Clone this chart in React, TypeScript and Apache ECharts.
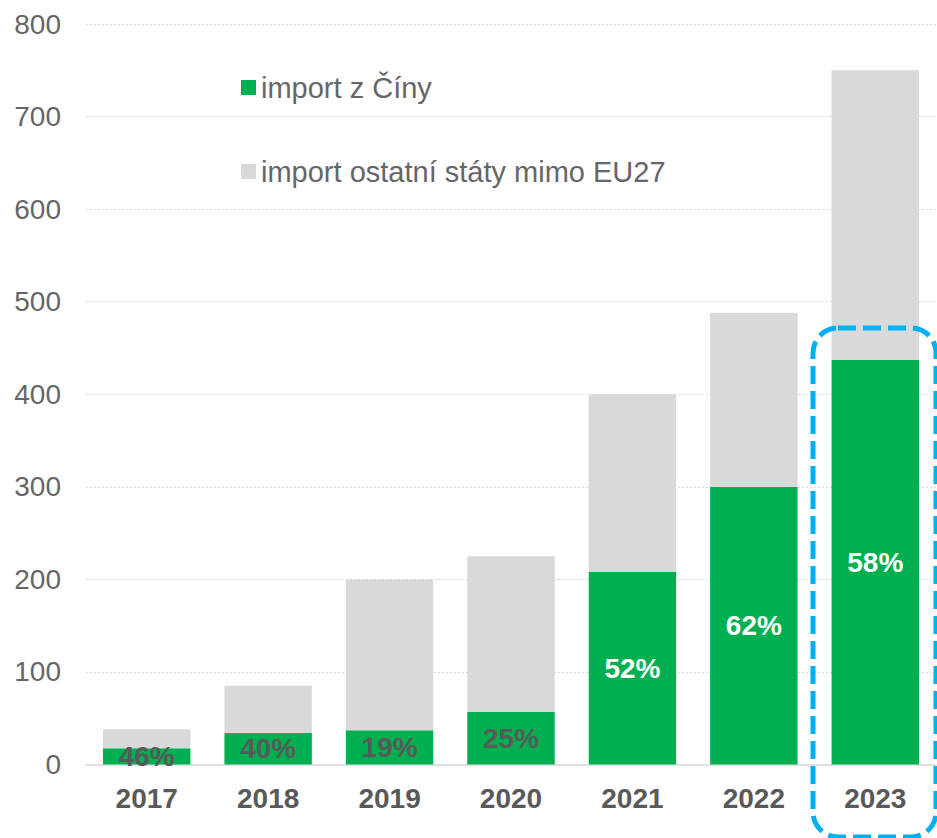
import React, { useEffect, useRef } from "react";
import * as echarts from "echarts";

const years = ["2017", "2018", "2019", "2020", "2021", "2022", "2023"];
const chinaImport = [17.5, 34, 37, 57, 208, 300, 437];
const otherImport = [20.5, 51, 163, 168, 192, 188, 313];
const shareLabels = ["46%", "40%", "19%", "25%", "52%", "62%", "58%"];
const yTicks = { min: 0, max: 800, interval: 100 };
const legendNames = ["import z Číny", "import ostatní státy mimo EU27"];

const FONT = "'Liberation Sans', Arial, sans-serif";
const GREEN = "#00b050";
const GRAY = "#d9d9d9";
const TEXT = "#595959";

export default function App() {
  const ref = useRef<HTMLDivElement>(null);
  useEffect(() => {
    if (!ref.current) return;
    const chart = echarts.init(ref.current, undefined, { renderer: "svg" });
    chart.setOption({
      animation: false,
      grid: { left: 86, right: 1, top: 24, bottom: 73.5, containLabel: false },
      legend: {
        orient: "vertical",
        left: 236,
        top: 68,
        itemWidth: 15,
        itemHeight: 15,
        itemGap: 55,
        icon: "rect",
        data: legendNames,
        textStyle: { fontFamily: FONT, fontSize: 29, color: "#666", lineHeight: 29 },
      },
      xAxis: {
        type: "category",
        data: years,
        axisTick: { show: false },
        axisLine: { show: true, lineStyle: { color: GRAY, width: 1.5 } },
        axisLabel: {
          margin: 20,
          fontFamily: FONT,
          fontSize: 28,
          fontWeight: "bold",
          color: TEXT,
        },
      },
      yAxis: {
        type: "value",
        min: yTicks.min,
        max: yTicks.max,
        interval: yTicks.interval,
        axisLine: { show: false },
        axisTick: { show: false },
        axisLabel: { margin: 25, fontFamily: FONT, fontSize: 28, color: "#666" },
        splitLine: { show: true, lineStyle: { color: GRAY, type: [2, 2], width: 1 } },
      },
      series: [
        {
          name: legendNames[0],
          type: "bar",
          stack: "total",
          barWidth: "72%",
          itemStyle: { color: GREEN },
          data: chinaImport.map((v, i) => ({
            value: v,
            label: { color: i < 4 ? TEXT : "#ffffff" },
          })),
          label: {
            show: true,
            position: "inside",
            fontFamily: FONT,
            fontSize: 28,
            fontWeight: "bold",
            formatter: (p: any) => shareLabels[p.dataIndex],
          },
        },
        {
          name: legendNames[1],
          type: "bar",
          stack: "total",
          barWidth: "72%",
          itemStyle: { color: GRAY },
          data: otherImport,
        },
      ],
      graphic: [
        {
          type: "rect",
          shape: { x: 813, y: 328, width: 123, height: 509, r: 25 },
          style: { fill: "none", stroke: "#00b0f0", lineWidth: 5, lineDash: [18, 7] },
          z: 100,
        },
      ],
    });
    return () => chart.dispose();
  }, []);
  return (
    <div
      ref={ref}
      style={{ position: "fixed", left: 0, top: 0, width: 937, height: 838, background: "#fff" }}
    />
  );
}
